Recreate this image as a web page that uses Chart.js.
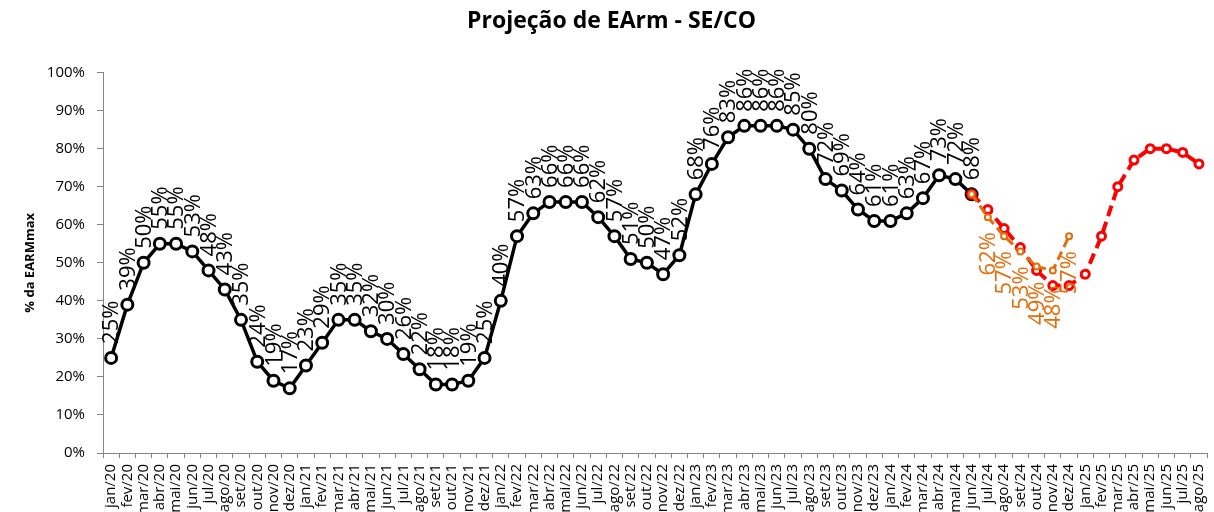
<!DOCTYPE html>
<html lang="pt-BR">
<head>
<meta charset="utf-8">
<title>Projeção de EArm - SE/CO</title>
<script src="https://cdn.jsdelivr.net/npm/chart.js@4/dist/chart.umd.min.js"></script>
<style>
  html, body { margin: 0; padding: 0; background: #fff; overflow: hidden; }
  /* um pouco mais largo que a janela: o último rótulo do eixo fica cortado na borda */
  #wrap { width: 1223px; height: 512px; position: relative; }
</style>
</head>
<body>
<div id="wrap"><canvas id="earmChart"></canvas></div>
<script>
/* Projeção de EArm - SE/CO */

const meses = [
    "jan/20","fev/20","mar/20","abr/20","mai/20","jun/20","jul/20","ago/20","set/20","out/20","nov/20","dez/20",
    "jan/21","fev/21","mar/21","abr/21","mai/21","jun/21","jul/21","ago/21","set/21","out/21","nov/21","dez/21",
    "jan/22","fev/22","mar/22","abr/22","mai/22","jun/22","jul/22","ago/22","set/22","out/22","nov/22","dez/22",
    "jan/23","fev/23","mar/23","abr/23","mai/23","jun/23","jul/23","ago/23","set/23","out/23","nov/23","dez/23",
    "jan/24","fev/24","mar/24","abr/24","mai/24","jun/24","jul/24","ago/24","set/24","out/24","nov/24","dez/24",
    "jan/25","fev/25","mar/25","abr/25","mai/25","jun/25","jul/25","ago/25"
];

// EArm verificada (jan/20 a jun/24), % da EARMmax
const earmVerificada = [
    25, 39, 50, 55, 55, 53, 48, 43, 35, 24, 19, 17,
    23, 29, 35, 35, 32, 30, 26, 22, 18, 18, 19, 25,
    40, 57, 63, 66, 66, 66, 62, 57, 51, 50, 47, 52,
    68, 76, 83, 86, 86, 86, 85, 80, 72, 69, 64, 61,
    61, 63, 67, 73, 72, 68
];

// projeção curta (jun/24 a dez/24)
const projecaoCurta = [68, 62, 57, 53, 49, 48, 57];

// projeção longa (jun/24 a ago/25)
const projecaoLonga = [68, 64, 59, 54, 48, 44, 44, 47, 57, 70, 77, 80, 80, 79, 76];

const yTicks = { min: 0, max: 100, step: 10 };

const inicioProjecao = meses.indexOf("jun/24");
const pad = (arr, start) => Array(start).fill(null).concat(arr);

// rótulos de valor girados 90°, como no Excel
const rotulosPontos = {
    id: 'rotulosPontos',
    afterDatasetsDraw(chart) {
        const ctx = chart.ctx;
        chart.data.datasets.forEach((ds, i) => {
            const cfg = ds.rotulo;
            if (!cfg) return;
            const meta = chart.getDatasetMeta(i);
            meta.data.forEach((pt, j) => {
                const v = ds.data[j];
                if (v == null || j < cfg.desde) return;
                ctx.save();
                ctx.translate(pt.x + 1, pt.y + cfg.offset);
                ctx.rotate(-Math.PI / 2);
                ctx.font = '22px "Open Sans"';
                ctx.fillStyle = cfg.cor;
                ctx.textAlign = cfg.offset > 0 ? 'right' : 'left';
                ctx.textBaseline = 'middle';
                ctx.fillText(v + '%', 0, 0);
                ctx.restore();
            });
        });
    }
};

const ctx = document.getElementById('earmChart').getContext('2d');
new Chart(ctx, {
    type: 'line',
    data: {
        labels: meses,
        datasets: [
            {
                label: 'Verificado',
                data: earmVerificada,
                borderColor: '#000',
                borderWidth: 3.5,
                pointRadius: 5.5,
                pointBorderWidth: 3,
                pointBackgroundColor: '#fff',
                pointBorderColor: '#000',
                tension: 0,
                order: 3,
                rotulo: { cor: '#000', offset: -14, desde: 0 }
            },
            {
                label: 'Projeção longa',
                data: pad(projecaoLonga, inicioProjecao),
                borderColor: '#ff0000',
                borderWidth: 4,
                borderDash: [11, 6],
                pointRadius: 4,
                pointBorderWidth: 3,
                pointBackgroundColor: '#fff',
                pointBorderColor: '#ff0000',
                tension: 0,
                order: 2
            },
            {
                label: 'Projeção curta',
                data: pad(projecaoCurta, inicioProjecao),
                borderColor: '#e46c0a',
                borderWidth: 3,
                borderDash: [9, 5],
                pointRadius: 3,
                pointBorderWidth: 2,
                pointBackgroundColor: '#fff',
                pointBorderColor: '#e46c0a',
                tension: 0,
                order: 1,
                rotulo: { cor: '#e46c0a', offset: 15, desde: inicioProjecao + 1 }
            }
        ]
    },
    options: {
        responsive: true,
        maintainAspectRatio: false,
        animation: false,
        layout: { padding: { left: 0, right: 0, top: 0, bottom: 0 } },
        plugins: {
            legend: { display: false },
            tooltip: { enabled: false },
            title: {
                display: true,
                text: 'Projeção de EArm - SE/CO',
                color: '#000',
                font: { family: 'Open Sans', size: 23, weight: 'bold' },
                padding: { top: 8, bottom: 37 }
            }
        },
        scales: {
            x: {
                offset: true,
                grid: { offset: true, drawOnChartArea: false, tickLength: 5, color: '#868686' },
                border: { color: '#868686', width: 1 },
                ticks: {
                    autoSkip: false,
                    minRotation: 90,
                    maxRotation: 90,
                    padding: 6,
                    color: '#000',
                    font: { family: 'Open Sans', size: 15 }
                },
                afterFit: s => { s.height = 59; }
            },
            y: {
                min: yTicks.min,
                max: yTicks.max,
                grid: { drawOnChartArea: false, tickLength: 6, color: '#868686' },
                border: { color: '#868686', width: 1 },
                ticks: {
                    stepSize: yTicks.step,
                    padding: 12,
                    color: '#000',
                    font: { family: 'Open Sans', size: 15 },
                    callback: v => v + '%'
                },
                title: {
                    display: true,
                    text: '% da EARMmax',
                    color: '#000',
                    font: { family: 'Open Sans', size: 13, weight: 'bold' },
                    padding: { top: 22, bottom: 0 }
                },
                afterFit: s => { s.width = 103; }
            }
        }
    },
    plugins: [rotulosPontos]
});
</script>
</body>
</html>
